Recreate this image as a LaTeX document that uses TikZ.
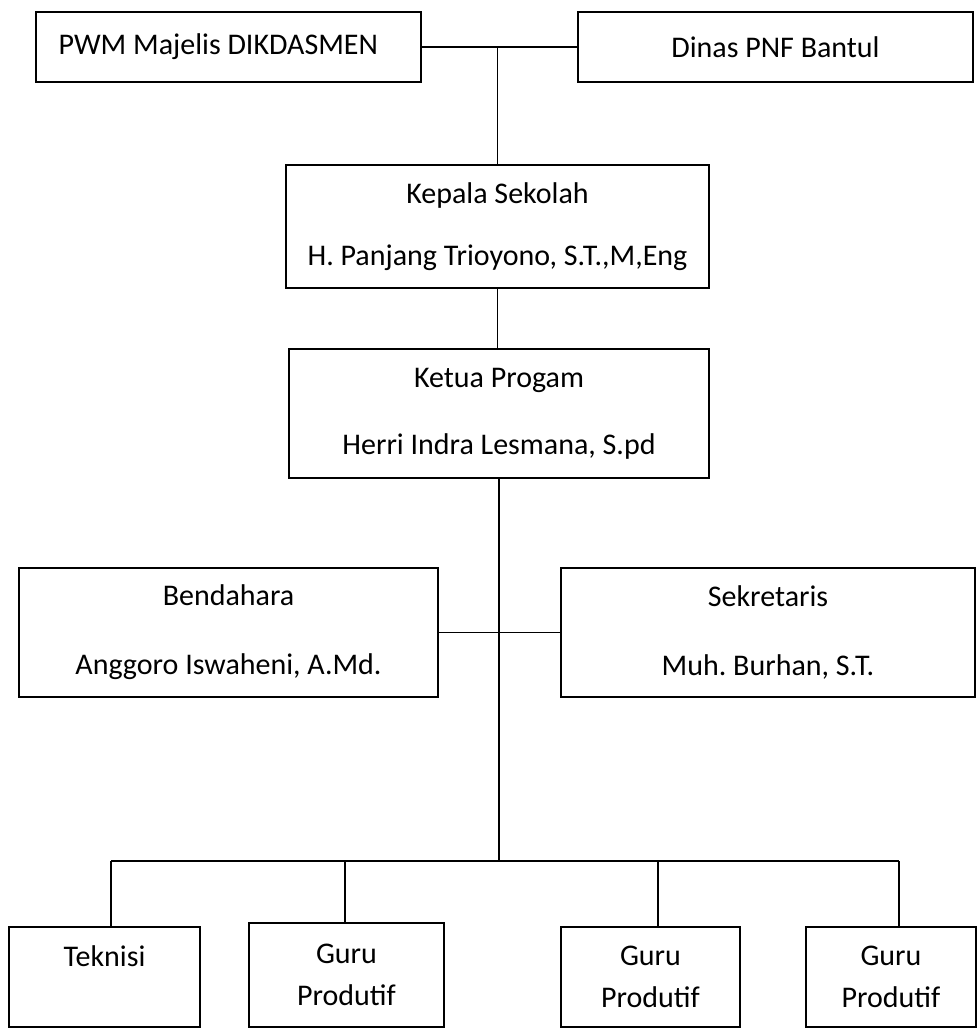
\documentclass[tikz,border=0pt]{standalone}
\usepackage{fontspec}
\setmainfont{Carlito}
\frenchspacing
\begin{document}
\begin{tikzpicture}[x=0.5pt,y=-0.5pt,
  box/.style={draw, line width=0.85pt, inner sep=0pt, align=center,
    font=\fontsize{15}{18}\selectfont},
  link/.style={line width=0.85pt}]

% Fix the size of the page
\useasboundingbox (0,0) rectangle (977,1029);

% Top row
\node[box, minimum width=192.5pt, minimum height=35pt, text width=170pt,
  align=flush left] (pwm) at (228.5,47) {PWM Majelis DIKDASMEN};
\node[box, minimum width=197.5pt, minimum height=35pt] (dinas) at (775.5,47)
{Dinas PNF Bantul};

% Head of school and programme
\node[box, minimum width=211.5pt, minimum height=61.5pt] (kepala) at
(497.5,226.5) {Kepala Sekolah\\[13pt]H. Panjang Trioyono, S.T.,M,Eng};
\node[box, minimum width=210pt, minimum height=64.5pt] (ketua) at (499,413.5)
{Ketua Progam\\[15.5pt]Herri Indra Lesmana, S.pd};

% Treasurer and secretary
\node[box, minimum width=209.5pt, minimum height=64.5pt] (bendahara) at
(228.5,632.5) {Bendahara\\[16.5pt]Anggoro Iswaheni, A.Md.};
\node[box, minimum width=207pt, minimum height=64.5pt] (sekretaris) at
(768,632.5) {Sekretaris\\[16.5pt]Muh. Burhan, S.T.};

% Bottom row
\node[box, minimum width=95.5pt, minimum height=50pt] (teknisi) at (104.5,977)
{Teknisi\\[3pt]\phantom{Produtif}};
\node[box, minimum width=97.5pt, minimum height=52pt] (guruA) at (346.5,975)
{Guru\\[3pt]Produtif};
\node[box, minimum width=89.5pt, minimum height=50pt] (guruB) at (650.5,977)
{Guru\\[3pt]Produtif};
\node[box, minimum width=85pt, minimum height=50pt] (guruC) at (891,977)
{Guru\\[3pt]Produtif};

% Lines between the boxes
\draw[link] (pwm.east) -- (dinas.west);
\draw[link] (pwm.east -| kepala.north) -- (kepala.north);
\draw[link] (kepala.south) -- (kepala.south |- ketua.north);
\draw[link] (bendahara.east) -- (sekretaris.west);

% Line down to the bottom row
\coordinate (bus) at (498,861);
\draw[link] (ketua.south) -- (ketua.south |- bus);
\draw[link] (111,861) coordinate (busL) -- (899,861) coordinate (busR);
\foreach \x/\n in {111/teknisi, 345/guruA, 658/guruB, 899/guruC}
  \draw[link] (\x,861) -- (\x,861 |- \n.north);
\end{tikzpicture}
\end{document}
